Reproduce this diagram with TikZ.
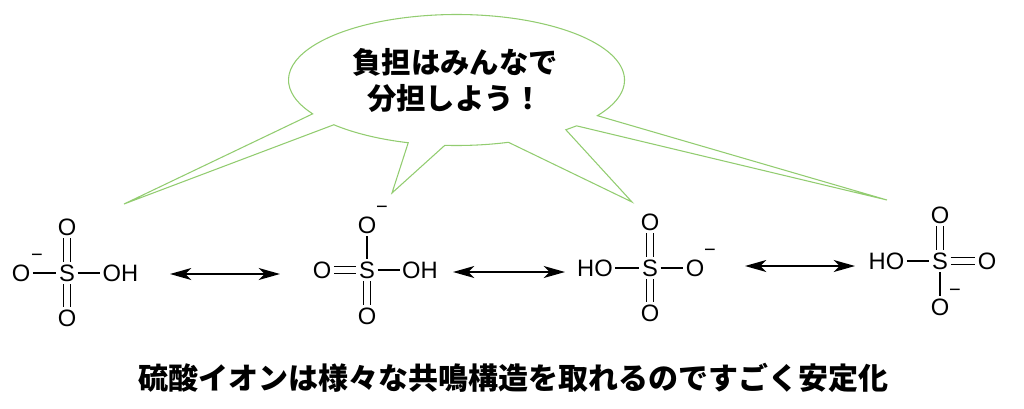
\documentclass[tikz,border=0pt]{standalone}
\usepackage{fontspec}
\setmainfont{Liberation Sans}
\newfontfamily\jpfont{Noto Sans CJK JP}
\usepackage{tikz}
\usetikzlibrary{arrows.meta,positioning,calc}
\definecolor{bubblegreen}{RGB}{146,204,112}
\tikzset{
    bubble color/.style={bubblegreen},
    bubble style/.style={bubble color,line width=0.8pt,line join=miter},
    bubble text/.style={font=\jpfont\bfseries\fontsize{22pt}{27pt}\selectfont,align=center},
    caption text/.style={font=\jpfont\bfseries\fontsize{22.5pt}{27pt}\selectfont},
    atom/.style={font=\fontsize{17.8pt}{20pt}\selectfont,inner sep=1.8pt},
    charge/.style={font=\fontsize{15pt}{16pt}\selectfont,inner sep=0pt},
    bond/.style={line width=1.05pt},
    double bond/.style={double,double distance=4.2pt,line width=1.05pt},
    resonance arrow/.style={{Stealth[length=16pt,width=9pt,inset=4.5pt]}-{Stealth[length=16pt,width=9pt,inset=4.5pt]},line width=1.2pt},
}

\begin{document}
\begin{tikzpicture}[x=0.75pt,y=-0.75pt]
    \useasboundingbox (0,0) rectangle (1024,408);

    % speech bubble with four tails
    \coordinate (c) at (456.5,80);
    \coordinate (t1) at (124,204);
    \coordinate (t2) at (392,193);
    \coordinate (t3) at (632,202);
    \coordinate (t4) at (887,200);
    \draw[bubble style] ([shift={(33:168 and 65.5)}]c)
        arc[start angle=33, end angle=-211.1, x radius=168, y radius=65.5] -- (t1)
        -- ([shift={(136.9:168 and 65.5)}]c)
        arc[start angle=136.9, end angle=106.7, x radius=168, y radius=65.5] -- (t2)
        -- ([shift={(94:168 and 65.5)}]c)
        arc[start angle=94, end angle=72, x radius=168, y radius=65.5] -- (t3)
        -- ([shift={(49.4:168 and 65.5)}]c)
        arc[start angle=49.4, end angle=44.4, x radius=168, y radius=65.5] -- (t4) -- cycle;
    \node[bubble text] (msg) at (455,80) {負担はみんなで\\分担しよう！};

    % structure 1
    \begin{scope}[shift={(67,273)}]
        \node[atom] (S1) at (0,0) {S};
        \node[atom] (S1l) at (-46,0) {O};
        \node[atom] (S1t) at (0,-46) {O};
        \node[atom] (S1b) at (0,45) {O};
        \node[atom] (S1r) at (53.5,0) {OH};
        \node[charge] (S1m) at ([shift={(16,-15)}]S1l) {−};
        \draw[bond] (S1l) -- (S1);
        \draw[double bond] (S1) -- (S1t);
        \draw[double bond] (S1) -- (S1b);
        \draw[bond] (S1) -- (S1r);
    \end{scope}

    % structure 2
    \begin{scope}[shift={(367,270)}]
        \node[atom] (S2) at (0,0) {S};
        \node[atom] (S2l) at (-45,0) {O};
        \node[atom] (S2t) at (0,-45) {O};
        \node[atom] (S2b) at (0,46) {O};
        \node[atom] (S2r) at (53,0) {OH};
        \node[charge] (S2m) at ([shift={(15,-15)}]S2t) {−};
        \draw[double bond] (S2l) -- (S2);
        \draw[bond] (S2) -- (S2t);
        \draw[double bond] (S2) -- (S2b);
        \draw[bond] (S2) -- (S2r);
    \end{scope}

    % structure 3
    \begin{scope}[shift={(650,268)}]
        \node[atom] (S3) at (0,0) {S};
        \node[atom] (S3l) at (-55,0) {HO};
        \node[atom] (S3t) at (0,-46) {O};
        \node[atom] (S3b) at (0,45) {O};
        \node[atom] (S3r) at (45,0) {O};
        \node[charge] (S3m) at ([shift={(15,-15)}]S3r) {−};
        \draw[bond] (S3l) -- (S3);
        \draw[double bond] (S3) -- (S3t);
        \draw[double bond] (S3) -- (S3b);
        \draw[bond] (S3) -- (S3r);
    \end{scope}

    % structure 4
    \begin{scope}[shift={(940,261)}]
        \node[atom] (S4) at (0,0) {S};
        \node[atom] (S4l) at (-53.5,0) {HO};
        \node[atom] (S4t) at (0,-46) {O};
        \node[atom] (S4b) at (0,46) {O};
        \node[atom] (S4r) at (47,0) {O};
        \node[charge] (S4m) at ([shift={(15,-14)}]S4b) {−};
        \draw[bond] (S4l) -- (S4);
        \draw[double bond] (S4) -- (S4t);
        \draw[double bond] (S4) -- (S4r);
        \draw[bond] (S4) -- (S4b);
    \end{scope}

    % resonance arrows
    \coordinate (a1) at (170,274);
    \coordinate (b1) at (280,274);
    \coordinate (a2) at (453,272);
    \coordinate (b2) at (565,272);
    \coordinate (a3) at (745,266);
    \coordinate (b3) at (855,266);
    \draw[resonance arrow] (a1) -- (b1);
    \draw[resonance arrow] (a2) -- (b2);
    \draw[resonance arrow] (a3) -- (b3);

    \node[caption text] (cap) at (513,378) {硫酸イオンは様々な共鳴構造を取れるのですごく安定化};
\end{tikzpicture}
\end{document}
